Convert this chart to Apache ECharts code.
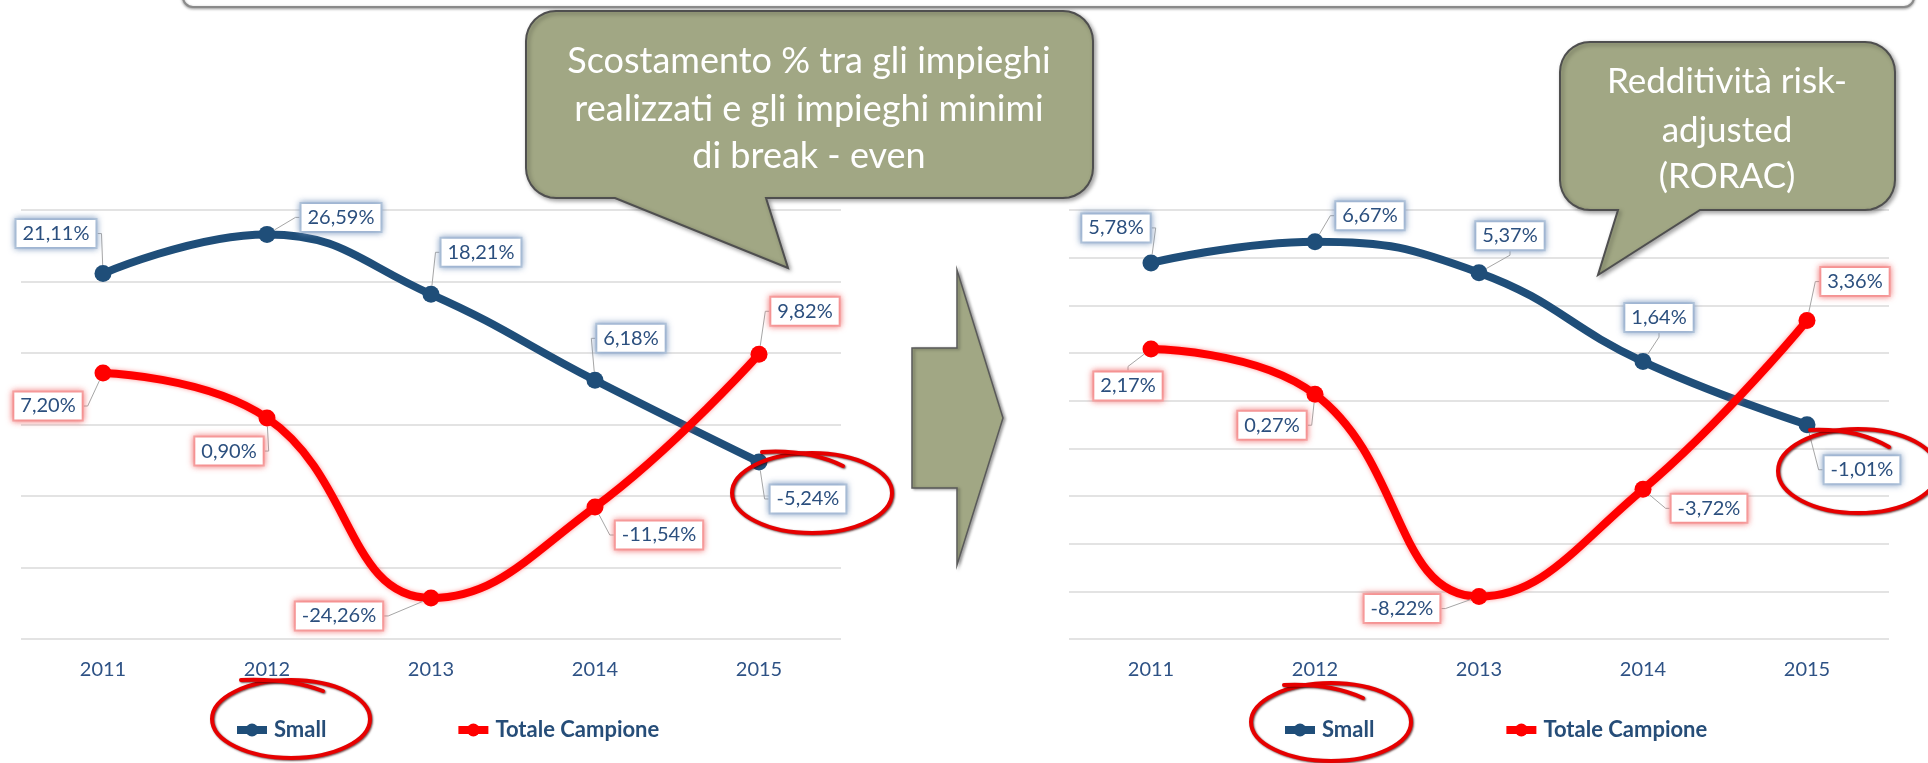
<!DOCTYPE html>
<html>
<head>
<meta charset="utf-8">
<script src="https://cdn.jsdelivr.net/npm/echarts@6/dist/echarts.min.js"></script>
<style>
html,body{margin:0;padding:0;background:#fff;}
#chart{width:1928px;height:763px;}
</style>
</head>
<body>
<div id="chart"></div>
<script>
// ---- data ----
var years = ['2011', '2012', '2013', '2014', '2015'];
var smallScost = [21.11, 26.59, 18.21, 6.18, -5.24];
var totaleScost = [7.20, 0.90, -24.26, -11.54, 9.82];
var smallRorac = [5.78, 6.67, 5.37, 1.64, -1.01];
var totaleRorac = [2.17, 0.27, -8.22, -3.72, 3.36];
var leftAxis = {min: -30, max: 30, interval: 10};
var rightAxis = {min: -10, max: 8, interval: 2};
var seriesNames = ['Small', 'Totale Campione'];

// ---- styling (label offsets from point, px) ----
var labelOffsets = [
  [[-47, -40], [74, -17], [50, -42], [36, -42], [49, 37]],
  [[-55, 33], [-38, 33], [-92, 18], [64, 28], [46, -43]],
  [[-35, -35], [55, -26], [31, -37], [16, -44], [55, 45]],
  [[-23, 37], [-43, 31], [-77, 12], [66, 19], [48, -39]]
];

var BLUE = '#1F4E79';
var RED = '#FF0000';
var TXT = '#2B4F7E';
var FONT = 'Lato, "Open Sans", sans-serif';
var BUBBLE = '#A1A784';

function fmt(p) { return p.value.toFixed(2).replace('.', ',') + '%'; }

function makeSeries(name, data, xi, color, borderColor, glow, lineGlow) {
  return {
    name: name,
    type: 'line',
    xAxisIndex: xi,
    yAxisIndex: xi,
    data: data,
    smooth: 0.45,
    symbol: 'circle',
    symbolSize: 17,
    lineStyle: {color: color, width: 8, shadowColor: lineGlow, shadowBlur: lineGlow ? 4 : 0},
    itemStyle: {color: color},
    z: color === RED ? 3 : 2,
    label: {
      show: true,
      position: 'inside',
      formatter: fmt,
      fontFamily: FONT,
      fontSize: 20,
      lineHeight: 22,
      color: TXT,
      backgroundColor: '#fff',
      borderColor: borderColor,
      borderWidth: 2,
      padding: [3, 6, 2, 6],
      shadowBlur: 6,
      shadowColor: glow
    },
    labelLine: {show: true, length2: 4, lineStyle: {color: '#A6A6A6', width: 1}},
    labelLayout: function (params) {
      var o = labelOffsets[params.seriesIndex][params.dataIndex];
      return {dx: o[0], dy: o[1]};
    }
  };
}

function xAx(gi) {
  return {
    type: 'category', gridIndex: gi, data: years, boundaryGap: true,
    axisLine: {show: false}, axisTick: {show: false},
    axisLabel: {color: '#2E5285', fontFamily: FONT, fontSize: 20, margin: 21},
    splitLine: {show: false}
  };
}
function yAx(gi, a) {
  return {
    type: 'value', gridIndex: gi, min: a.min, max: a.max, interval: a.interval,
    axisLine: {show: false}, axisTick: {show: false}, axisLabel: {show: false},
    splitLine: {show: true, lineStyle: {color: '#DADADA', width: 1.5}}
  };
}
function legend(left) {
  return {
    left: left, top: 714, itemWidth: 30, itemHeight: 16, itemGap: 128,
    data: seriesNames, selectedMode: false,
    lineStyle: {width: 8},
    textStyle: {color: '#264D78', fontFamily: FONT, fontSize: 22, fontWeight: 'bold', padding: [0, 0, 0, 2]}
  };
}

var redStroke = {stroke: '#E60000', lineWidth: 4, fill: 'none', lineCap: 'round',
  shadowColor: 'rgba(60,0,0,0.7)', shadowBlur: 2, shadowOffsetX: 1, shadowOffsetY: 1};
function ellipse(cx, cy, rx, ry) {
  return {type: 'ellipse', z: 200, silent: true,
    shape: {cx: cx, cy: cy, rx: rx, ry: ry}, style: redStroke};
}
function hook(x1, y1, cx, cy, x2, y2) {
  return {type: 'bezierCurve', z: 200, silent: true,
    shape: {x1: x1, y1: y1, cpx1: cx, cpy1: cy, x2: x2, y2: y2}, style: redStroke};
}

// rounded-rect speech bubble outline (decoration)
function bubblePoints(L, T, R, B, r, tailR, tip, tailL) {
  var pts = [];
  function arc(cx, cy, a0, a1) {
    for (var i = 0; i <= 8; i++) {
      var a = a0 + (a1 - a0) * i / 8;
      pts.push([cx + r * Math.cos(a), cy + r * Math.sin(a)]);
    }
  }
  arc(L + r, T + r, Math.PI, 1.5 * Math.PI);
  arc(R - r, T + r, 1.5 * Math.PI, 2 * Math.PI);
  arc(R - r, B - r, 0, 0.5 * Math.PI);
  pts.push([tailR, B]); pts.push(tip); pts.push([tailL, B]);
  arc(L + r, B - r, 0.5 * Math.PI, Math.PI);
  return pts;
}
var bubbleStyle = {fill: BUBBLE, stroke: '#4F4F4F', lineWidth: 2,
  shadowColor: 'rgba(0,0,0,0.35)', shadowBlur: 4, shadowOffsetX: 2, shadowOffsetY: 2};
function btext(t, x, y, size) {
  return {type: 'text', z: 151, silent: true, x: x, y: y,
    style: {text: t, fill: '#fff', font: size + 'px ' + FONT, textAlign: 'center', textVerticalAlign: 'middle'}};
}

var chart = echarts.init(document.getElementById('chart'), null, {renderer: 'canvas'});
chart.setOption({
  backgroundColor: '#fff',
  animation: false,
  grid: [
    {left: 21, top: 210, width: 820, height: 429},
    {left: 1069, top: 210, width: 820, height: 429}
  ],
  xAxis: [xAx(0), xAx(1)],
  yAxis: [yAx(0, leftAxis), yAx(1, rightAxis)],
  legend: [legend(228), legend(1276)],
  series: [
    makeSeries(seriesNames[0], smallScost, 0, BLUE, '#B7C8DD', 'rgba(120,150,190,0.8)', null),
    makeSeries(seriesNames[1], totaleScost, 0, RED, '#F7A8A8', 'rgba(240,110,110,0.8)', 'rgba(255,80,80,0.6)'),
    makeSeries(seriesNames[0], smallRorac, 1, BLUE, '#B7C8DD', 'rgba(120,150,190,0.8)', null),
    makeSeries(seriesNames[1], totaleRorac, 1, RED, '#F7A8A8', 'rgba(240,110,110,0.8)', 'rgba(255,80,80,0.6)')
  ],
  graphic: {elements: [
    {type: 'rect', z: 100, silent: true, shape: {x: 183, y: -40, width: 1731, height: 47, r: 10},
      style: {fill: '#fff', stroke: '#8A8A8A', lineWidth: 2,
        shadowColor: 'rgba(0,0,0,0.35)', shadowBlur: 3, shadowOffsetY: 1}},
    {type: 'polygon', z: 150, silent: true,
      shape: {points: bubblePoints(526, 11, 1093, 198, 30, 766, [788, 268], 615)}, style: bubbleStyle},
    btext('Scostamento % tra gli impieghi', 809, 61, 36),
    btext('realizzati e gli impieghi minimi', 809, 109, 36),
    btext('di break - even', 809, 156, 36),
    {type: 'polygon', z: 150, silent: true,
      shape: {points: bubblePoints(1560, 42, 1895, 210, 30, 1700, [1598, 275], 1618)}, style: bubbleStyle},
    btext('Redditività risk-', 1727, 82, 35),
    btext('adjusted', 1727, 131, 35),
    btext('(RORAC)', 1727, 177, 35),
    {type: 'polygon', z: 150, silent: true,
      shape: {points: [[912, 348], [957, 348], [957, 270], [1003, 418], [957, 565], [957, 488], [912, 488]]},
      style: {fill: BUBBLE, stroke: '#5A5A5A', lineWidth: 1.5,
        shadowColor: 'rgba(0,0,0,0.35)', shadowBlur: 3, shadowOffsetX: 2, shadowOffsetY: 1}},
    ellipse(812, 493, 80, 40),
    hook(762, 452, 808, 449, 843, 466),
    ellipse(291, 719, 79, 39),
    hook(241, 680, 290, 678, 323, 691),
    ellipse(1858, 471, 80, 42),
    hook(1810, 430, 1856, 428, 1889, 447),
    ellipse(1331, 722, 80, 39),
    hook(1284, 685, 1330, 683, 1363, 698)
  ]}
});
</script>
</body>
</html>
